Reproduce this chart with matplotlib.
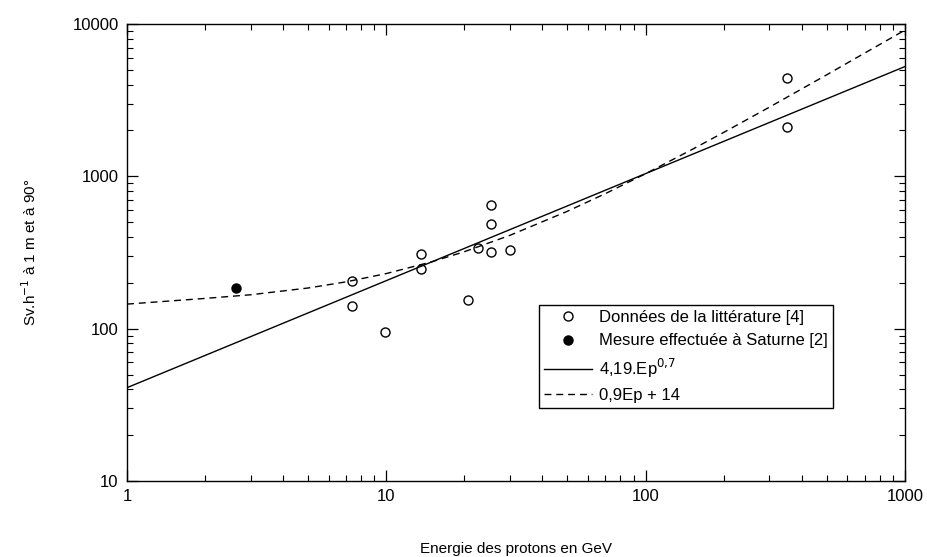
import matplotlib.pyplot as plt

plt.rcParams['font.family'] = ['Liberation Sans', 'DejaVu Sans']

# Donnees de la litterature (cercles ouverts)
lit_x = [7.4, 7.4, 9.9, 13.6, 13.6, 20.7, 22.6, 25.3, 25.3, 25.3, 29.9, 352, 352]
lit_y = [205, 140, 95, 310, 245, 155, 340, 650, 490, 320, 330, 4400, 2100]

# Mesure effectuee a Saturne
sat_x = [2.63]
sat_y = [185]

# Ajustement 4,19.Ep^0,7 (droite en log-log)
fit_x = [1, 1000]
fit_y = [41, 5250]

# Courbe 0,9Ep + 14
lin_x = [1, 2, 3, 5, 7, 10, 15, 20, 30, 50, 70, 100, 150, 200, 300, 500, 700, 1000]
lin_y = [145, 158, 167, 185, 203, 230, 275, 320, 410, 590, 770, 1040, 1490, 1940, 2840, 4640, 6440, 9100]

fig = plt.figure(figsize=(9.27, 5.57), dpi=100)
ax = fig.add_axes([0.137, 0.1364, 0.839, 0.8205])

ax.plot(lit_x, lit_y, 'o', mfc='white', mec='black', ms=6.5, mew=1.0,
        label="Données de la littérature [4]")
ax.plot(sat_x, sat_y, 'o', mfc='black', mec='black', ms=6.5,
        label="Mesure effectuée à Saturne [2]")
ax.plot(fit_x, fit_y, '-', color='black', lw=1.0, label="4,19.Ep$^{0{,}7}$")
ax.plot(lin_x, lin_y, '--', color='black', lw=1.0, dashes=(5, 3.5),
        label="0,9Ep + 14")

ax.set_xscale('log')
ax.set_yscale('log')
ax.set_xlim(1, 1000)
ax.set_ylim(10, 10000)
ax.set_xticks([1, 10, 100, 1000])
ax.set_xticklabels(['1', '10', '100', '1000'])
ax.set_yticks([10, 100, 1000, 10000])
ax.set_yticklabels(['10', '100', '1000', '10000'])

ax.tick_params(which='both', direction='in', top=True, right=True,
               color='black', labelsize=12)
ax.tick_params(which='major', length=8, width=0.9, pad=6)
ax.tick_params(which='minor', length=4.5, width=0.8)
for s in ax.spines.values():
    s.set_linewidth(1.0)

ax.set_xlabel("Energie des protons en GeV", fontsize=11, labelpad=27)
ax.set_ylabel("Sv.h$^{-1}$ à 1 m et à 90°", fontsize=11, labelpad=24)

leg = ax.legend(loc='upper left', bbox_to_anchor=(0.5296, 0.385),
                fontsize=12, frameon=True, fancybox=False, framealpha=1,
                edgecolor='black', handlelength=2.9, borderpad=0.3,
                labelspacing=0.5, handletextpad=0.4, borderaxespad=0)
leg.get_frame().set_linewidth(1.0)

fig.savefig("out.png", dpi=100)
